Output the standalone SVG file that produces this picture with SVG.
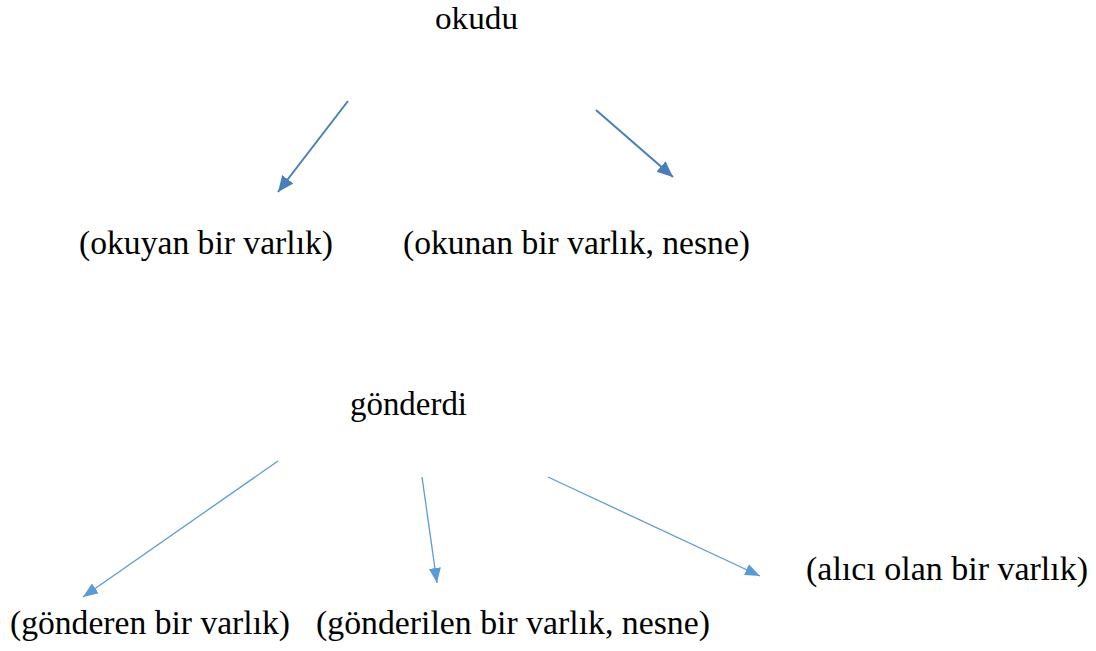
<svg xmlns="http://www.w3.org/2000/svg" width="1096" height="651" viewBox="0 0 1096 651">
<style>
.t{font-family:"Liberation Serif","Times New Roman",serif;font-size:34px;fill:#000}
.a1{stroke:#4a7ebb;stroke-width:2;fill:none}
.a2{stroke:#5b9bd5;stroke-width:1.3;fill:none}
</style>
<defs>
<marker id="h1" markerUnits="userSpaceOnUse" markerWidth="18" markerHeight="16" refX="16" refY="7" orient="auto"><path d="M0,0 L16,7 L0,14 Z" fill="#4a7ebb"/></marker>
<marker id="h2" markerUnits="userSpaceOnUse" markerWidth="18" markerHeight="14" refX="15" refY="6" orient="auto"><path d="M0,0 L15,6 L0,12 Z" fill="#5b9bd5"/></marker>
</defs>
<rect width="1096" height="651" fill="#fff"/>
<g id="connectors">
<line class="a1" x1="348" y1="101" x2="278" y2="192" marker-end="url(#h1)"/>
<line class="a1" x1="596" y1="110" x2="673" y2="177" marker-end="url(#h1)"/>
<line class="a2" x1="278" y1="461" x2="83" y2="597" marker-end="url(#h2)"/>
<line class="a2" x1="422" y1="477" x2="437" y2="583" marker-end="url(#h2)"/>
<line class="a2" x1="548" y1="477" x2="760" y2="576" marker-end="url(#h2)"/>
</g>
<g id="okudu"><text class="t" x="435" y="29" style="font-size:32px" textLength="83" lengthAdjust="spacingAndGlyphs">okudu</text></g>
<g id="okuyan"><text class="t" x="79" y="254" textLength="254" lengthAdjust="spacingAndGlyphs">(okuyan bir varlık)</text></g>
<g id="okunan"><text class="t" x="403" y="254" textLength="347" lengthAdjust="spacingAndGlyphs">(okunan bir varlık, nesne)</text></g>
<g id="gonderdi"><text class="t" x="350" y="415" textLength="117" lengthAdjust="spacingAndGlyphs">gönderdi</text></g>
<g id="gonderen"><text class="t" x="10" y="634" textLength="280" lengthAdjust="spacingAndGlyphs">(gönderen bir varlık)</text></g>
<g id="gonderilen"><text class="t" x="316" y="634" textLength="394" lengthAdjust="spacingAndGlyphs">(gönderilen bir varlık, nesne)</text></g>
<g id="alici"><text class="t" x="806" y="580" textLength="282" lengthAdjust="spacingAndGlyphs">(alıcı olan bir varlık)</text></g>
</svg>
